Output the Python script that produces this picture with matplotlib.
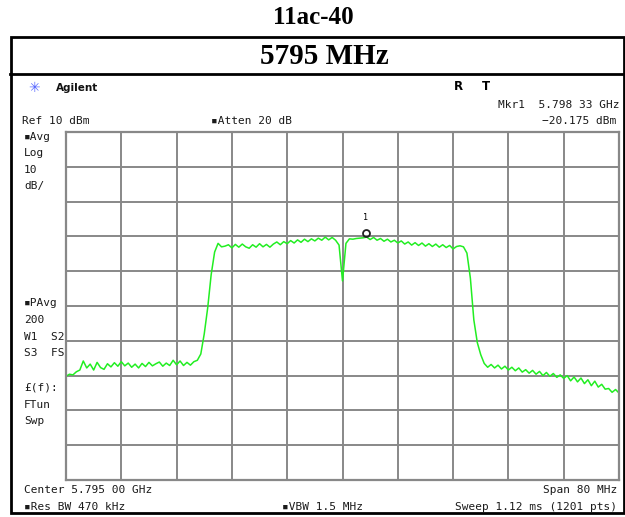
import numpy as np
import matplotlib.pyplot as plt
from matplotlib.patches import Rectangle
from matplotlib.lines import Line2D
import matplotlib.transforms as mtransforms

W, H = 625, 517

# analyzer settings
center_mhz = 5795.0
span_mhz = 80.0
ref_dbm = 10.0
db_per_div = 10.0
sweep_step_mhz = 0.5

mkr_freq_mhz = 5798.33
mkr_level_dbm = -20.175

# averaged trace, one value every 0.5 MHz from 5755 to 5835 MHz
trace_dbm = [
    -60.2, -59.6, -59.8, -58.9, -58.4, -55.8, -57.8, -56.7, -58.4, -56.2,
    -57.7, -58.2, -56.6, -57.5, -56.3, -57.3, -56.0, -57.2, -56.4, -57.6,
    -56.7, -57.8, -56.5, -57.4, -56.2, -57.2, -56.6, -56.1, -57.3, -56.4,
    -57.1, -55.6, -56.9, -55.8, -57.1, -56.2, -57.0, -56.0, -55.6, -53.8,
    -48.0, -40.5, -31.0, -24.5, -22.0, -23.0, -22.8, -22.4, -23.3, -22.3,
    -23.1, -22.2, -23.0, -23.4, -22.4, -23.1, -22.1, -23.0, -22.3, -23.1,
    -22.2, -21.6, -22.4, -21.5, -22.1, -21.2, -21.9, -21.0, -21.7, -20.8,
    -21.5, -20.7, -21.3, -20.5, -21.1, -20.2, -21.0, -20.3, -21.1, -22.5,
    -32.8, -22.0, -20.7, -20.8, -20.6, -20.5, -20.4, -20.2, -20.9, -20.3,
    -21.1, -20.6, -21.4, -20.8, -21.6, -21.1, -21.9, -21.3, -22.2, -21.6,
    -22.5, -21.8, -22.6, -21.9, -22.8, -22.1, -22.9, -22.2, -23.1, -22.4,
    -23.2, -22.6, -23.6, -22.9, -22.7, -23.0, -24.8, -32.0, -44.0, -50.5,
    -54.0, -56.5, -57.6, -56.8, -57.8, -57.0, -58.1, -57.3, -58.4, -57.6,
    -58.6, -57.8, -59.0, -58.3, -59.3, -58.5, -59.6, -58.8, -60.0, -59.1,
    -60.2, -59.4, -60.5, -59.8, -60.8, -60.0, -61.5, -60.4, -61.8, -60.7,
    -62.3, -61.2, -62.9, -61.6, -63.3, -62.5, -63.9, -63.7, -64.8, -64.0,
    -65.0,
]

f_start = center_mhz - span_mhz / 2
freq_mhz = f_start + sweep_step_mhz * np.arange(len(trace_dbm))


def px(x, y):
    # pixel position (from top-left) -> figure fraction
    return x / W, 1 - y / H


fig = plt.figure(figsize=(W / 100, H / 100), dpi=100)

# table frame around the screenshot
fig.patches.append(Rectangle(px(10.5, 513), 613 / W, 476 / H, transform=fig.transFigure,
                             fill=False, lw=2, ec='black'))
fig.lines.append(Line2D([10 / W, 1.0], [1 - 74 / H] * 2, transform=fig.transFigure,
                        color='black', lw=2))

serif = dict(family='Liberation Serif', weight='bold', ha='center', va='center')
fig.text(*px(313, 18), '11ac-40', fontsize=18, **serif)
fig.text(*px(324, 57), '5795 MHz', fontsize=21, **serif)

# graticule
ax = fig.add_axes([66 / W, 1 - 480 / H, 553 / W, 348 / H])
ax.set_xlim(f_start, f_start + span_mhz)
ax.set_ylim(ref_dbm - 10 * db_per_div, ref_dbm)
ax.set_xticks(np.linspace(f_start, f_start + span_mhz, 11))
ax.set_yticks(np.linspace(ref_dbm - 10 * db_per_div, ref_dbm, 11))
ax.grid(True, color='#888888', lw=1.4)
ax.tick_params(length=0, labelbottom=False, labelleft=False)
for s in ax.spines.values():
    s.set_color('#888888')
    s.set_linewidth(1.6)

ax.plot(freq_mhz, trace_dbm, color='#22ee22', lw=1.1)

# marker 1, drawn just above the trace point
up = mtransforms.offset_copy(ax.transData, fig=fig, x=0, y=4, units='dots')
ax.plot([mkr_freq_mhz], [mkr_level_dbm], marker='o', ms=5, mfc='none', mec='#222222',
        mew=1.3, transform=up, clip_on=False)
ax.annotate('1', (mkr_freq_mhz, mkr_level_dbm), xytext=(0, 14), textcoords='offset points',
            ha='center', va='center', fontsize=6, family='DejaVu Sans Mono')

# screen annotations
mono = dict(family=['DejaVu Sans Mono', 'DejaVu Sans'], fontsize=8, va='center', color='#1a1a1a')
fig.text(*px(34, 88), '✳', family='DejaVu Sans', fontsize=10, color='#5566ff',
         ha='center', va='center')
fig.text(*px(56, 88), 'Agilent', family='DejaVu Sans', weight='bold', fontsize=7.5,
         va='center', color='#111111')
fig.text(*px(458, 87), 'R', family='DejaVu Sans', weight='bold', fontsize=8.5, ha='center', va='center')
fig.text(*px(486, 87), 'T', family='DejaVu Sans', weight='bold', fontsize=8.5, ha='center', va='center')
fig.text(*px(619, 105), 'Mkr1  5.798 33 GHz', ha='right', **mono)
fig.text(*px(22, 121), 'Ref 10 dBm', **mono)
fig.text(*px(211, 121), '▪Atten 20 dB', **mono)
fig.text(*px(616, 121), f'{mkr_level_dbm:.3f} dBm'.replace('-', '−'), ha='right', **mono)

left_labels = [
    (137, '▪Avg'), (153, 'Log'), (170, '10'), (186, 'dB/'),
    (303, '▪PAvg'), (320, '200'), (337, 'W1  S2'), (353, 'S3  FS'),
    (388, '£(f):'), (405, 'FTun'), (421, 'Swp'),
]
for y, s in left_labels:
    fig.text(*px(24, y), s, **mono)

fig.text(*px(24, 490), 'Center 5.795 00 GHz', **mono)
fig.text(*px(617, 490), 'Span 80 MHz', ha='right', **mono)
fig.text(*px(24, 507), '▪Res BW 470 kHz', **mono)
fig.text(*px(282, 507), '▪VBW 1.5 MHz', **mono)
fig.text(*px(617, 507), 'Sweep 1.12 ms (1201 pts)', ha='right', **mono)

fig.savefig('out.png', dpi=100)
